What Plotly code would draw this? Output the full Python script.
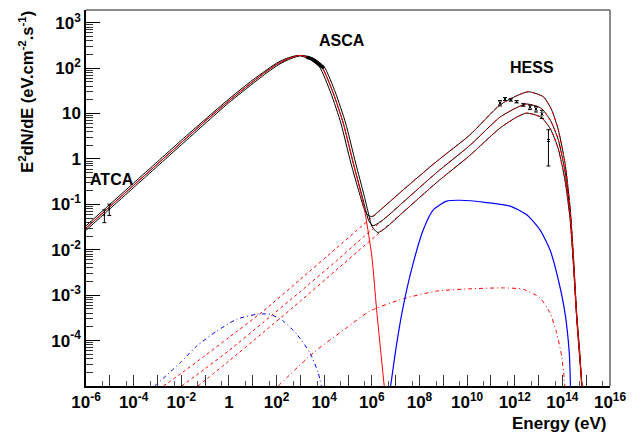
import plotly.graph_objects as go

# ---------------- data (log10 values) ----------------
# synchrotron (red solid)
sync_logE = [-6.1, -5, -4, -3, -2, -1, 0, 1, 1.5, 2, 2.5, 3, 3.5, 3.9, 4.38, 4.8, 5.22, 5.57, 5.74, 6.0, 6.2, 6.52]
sync_logF = [-1.57, -1.05, -0.58, -0.11, 0.36, 0.83, 1.28, 1.70, 1.90, 2.08, 2.21, 2.28, 2.20, 2.03, 1.45, 0.79, -0.09, -0.82, -1.26, -2.14, -3.31, -5.0]

# inverse Compton components (red dashed), three models
ic1_logE = [-2.75, -2, -1, 0, 1.44, 3, 4.5, 5.64, 6, 7.32, 8.72, 10.12, 11.38, 12.08, 12.57, 13.2, 13.55, 13.83, 14.11, 14.32, 14.46, 14.6, 14.74, 14.81]
ic1_logF = [-5.0, -4.72, -4.33, -3.93, -3.35, -2.65, -1.97, -1.45, -1.29, -0.68, -0.055, 0.53, 1.19, 1.39, 1.48, 1.37, 1.08, 0.64, -0.09, -1.04, -2.1, -3.39, -4.34, -5.0]
ic2_logE = [-1.98, -1, 0, 1.44, 3, 4.5, 5.64, 6, 7.32, 8.72, 10.12, 11.38, 12.08, 12.5, 13.1, 13.5, 13.83, 14.11, 14.32, 14.46, 14.6, 14.74, 14.82]
ic2_logF = [-5.0, -4.62, -4.22, -3.60, -2.92, -2.25, -1.72, -1.56, -0.95, -0.30, 0.30, 0.92, 1.13, 1.21, 1.12, 0.85, 0.42, -0.28, -1.15, -2.2, -3.45, -4.4, -5.0]
ic3_logE = [-1.3, 0, 1.44, 3, 4.5, 5.64, 6, 7.32, 8.72, 10.12, 11.38, 12.08, 12.5, 13.1, 13.5, 13.83, 14.11, 14.32, 14.46, 14.6, 14.74, 14.83]
ic3_logF = [-5.0, -4.45, -3.82, -3.13, -2.45, -1.93, -1.77, -1.17, -0.52, 0.08, 0.68, 0.92, 1.01, 0.92, 0.66, 0.22, -0.47, -1.3, -2.3, -3.5, -4.45, -5.0]

# total emission (black solid), three models
tot1_logE = [-6.1, -5, -4, -3, -2, -1, 0, 1, 1.5, 2, 2.4, 2.9, 3.4, 3.8, 4.28, 4.7, 5.12, 5.47, 5.64, 5.8, 6.0, 6.3,
             7.32, 8.72, 10.12, 11.38, 12.08, 12.57, 13.2, 13.55, 13.83, 14.11, 14.32, 14.46, 14.6, 14.74, 14.81]
tot1_logF = [-1.52, -1.00, -0.53, -0.06, 0.41, 0.87, 1.32, 1.74, 1.93, 2.11, 2.21, 2.28, 2.20, 2.03, 1.45, 0.79, -0.09, -0.74, -1.04, -1.22, -1.27, -1.15,
             -0.68, -0.055, 0.53, 1.19, 1.39, 1.48, 1.37, 1.08, 0.64, -0.09, -1.04, -2.1, -3.39, -4.34, -5.0]
tot2_logE = [-6.1, -5, -4, -3, -2, -1, 0, 1, 1.5, 2, 2.5, 3, 3.5, 3.9, 4.38, 4.8, 5.22, 5.57, 5.74, 5.87, 6.05, 6.5,
             7.32, 8.72, 10.12, 11.38, 12.08, 12.5, 13.1, 13.5, 13.83, 14.11, 14.32, 14.46, 14.6, 14.74, 14.82]
tot2_logF = [-1.57, -1.05, -0.58, -0.11, 0.36, 0.83, 1.28, 1.70, 1.90, 2.08, 2.21, 2.28, 2.20, 2.03, 1.45, 0.79, -0.09, -0.77, -1.12, -1.36, -1.47, -1.33,
             -0.95, -0.30, 0.30, 0.92, 1.13, 1.21, 1.12, 0.85, 0.42, -0.28, -1.15, -2.2, -3.45, -4.4, -5.0]
tot3_logE = [-6.1, -5, -4, -3, -2, -1, 0, 1.1, 1.6, 2.1, 2.6, 3.1, 3.6, 4.0, 4.48, 4.9, 5.32, 5.67, 5.84, 6.0, 6.25, 6.6,
             7.32, 8.72, 10.12, 11.38, 12.08, 12.5, 13.1, 13.5, 13.83, 14.11, 14.32, 14.46, 14.6, 14.74, 14.83]
tot3_logF = [-1.62, -1.10, -0.63, -0.16, 0.31, 0.78, 1.24, 1.70, 1.90, 2.08, 2.21, 2.28, 2.20, 2.03, 1.45, 0.79, -0.09, -0.79, -1.16, -1.48, -1.62, -1.51,
             -1.17, -0.52, 0.08, 0.68, 0.92, 1.01, 0.92, 0.66, 0.22, -0.47, -1.3, -2.3, -3.5, -4.45, -5.0]

# low-energy bump (blue dash-dot)
bdd_logE = [-3.12, -2.05, -1.35, -0.51, 0.33, 1.17, 1.72, 2.28, 2.85, 3.40, 3.75, 3.88]
bdd_logF = [-5.0, -4.49, -4.12, -3.79, -3.53, -3.42, -3.42, -3.57, -3.86, -4.27, -4.71, -5.0]

# red dash-dot component
rdd_logE = [2.07, 3.54, 4.94, 5.92, 7.32, 8.72, 10.12, 11.52, 12.36, 13.06, 13.48, 13.76, 13.97, 14.08, 14.1]
rdd_logF = [-5.0, -4.27, -3.72, -3.35, -3.08, -2.91, -2.86, -2.84, -2.87, -3.06, -3.39, -3.83, -4.34, -4.85, -5.0]

# blue solid component
bs_logE = [6.79, 7.05, 7.32, 7.74, 8.16, 8.58, 9.14, 9.70, 10.82, 11.80, 12.50, 13.06, 13.48, 13.83, 14.11, 14.29, 14.34]
bs_logF = [-5.0, -4.05, -3.24, -2.29, -1.56, -1.12, -0.93, -0.91, -0.96, -1.04, -1.23, -1.56, -2.0, -2.66, -3.39, -4.27, -5.0]

# measurements
atca_E = [5.9e-6, 9.5e-6]
atca_F = [0.0575, 0.079]
atca_err = [0.018, 0.022]

asca_E = [1.8e3, 3.0e3, 5.0e3, 7.0e3, 9.8e3]
asca_F = [174, 160, 130, 112, 100]

hess_E = [2.4e11, 3.9e11, 6.8e11, 1.2e12, 2.3e12, 4.4e12, 7.8e12, 1.38e13, 2.6e13]
hess_F = [17.0, 20.9, 20.0, 18.2, 15.5, 13.8, 12.6, 9.8, 2.55]
hess_err = [2.3, 1.5, 1.2, 1.0, 1.0, 1.6, 1.8, 2.0, 1.85]

x_label_exps = [-6, -4, -2, 0, 2, 4, 6, 8, 10, 12, 14, 16]
x_unlabeled_exps = [-5, -3, -1, 1, 3, 5, 7, 9, 11, 13, 15]
y_label_exps = [-4, -3, -2, -1, 0, 1, 2, 3]


def p10(v):
    return [10 ** a for a in v]


def lab(e):
    if e == 0:
        return "1"
    if e == 1:
        return "10"
    return "10<sup>%d</sup>" % e


fig = go.Figure()

def curve(lx, ly, color, dash="solid", width=1.0):
    fig.add_trace(go.Scatter(x=p10(lx), y=p10(ly), mode="lines",
                             line=dict(color=color, width=width, dash=dash, shape="spline", smoothing=0.6),
                             hoverinfo="skip", showlegend=False))

# totals (black)
curve(tot1_logE, tot1_logF, "black")
curve(tot2_logE, tot2_logF, "black")
curve(tot3_logE, tot3_logF, "black")
# synchrotron
curve(sync_logE, sync_logF, "red")
# IC
dash_ic = "3px,3px"
curve(ic1_logE, ic1_logF, "red", dash_ic)
curve(ic2_logE, ic2_logF, "red", dash_ic)
curve(ic3_logE, ic3_logF, "red", dash_ic)
# other components
dd = "4px,3px,1px,3px"
curve(bdd_logE, bdd_logF, "blue", dd)
curve(rdd_logE, rdd_logF, "red", dd)
curve(bs_logE, bs_logF, "blue", "solid", 1.2)

# data
fig.add_trace(go.Scatter(x=atca_E, y=atca_F, mode="markers",
                         marker=dict(color="black", size=2),
                         error_y=dict(type="data", array=atca_err, color="black", thickness=1, width=2),
                         showlegend=False, hoverinfo="skip"))
fig.add_trace(go.Scatter(x=asca_E, y=asca_F, mode="lines",
                         line=dict(color="black", width=3.5), showlegend=False, hoverinfo="skip"))
fig.add_trace(go.Scatter(x=hess_E, y=hess_F, mode="markers",
                         marker=dict(color="black", size=3, symbol="x-thin", line=dict(width=1, color="black")),
                         error_y=dict(type="data", array=hess_err, color="black", thickness=1, width=2),
                         showlegend=False, hoverinfo="skip"))

# invisible trace to carry the secondary (tick-only) x axis
fig.add_trace(go.Scatter(x=[1e-6, 1e16], y=[1e-5, 1e-5], xaxis="x2", mode="lines",
                         line=dict(width=0), opacity=0, hoverinfo="skip", showlegend=False))

tickfont = dict(family="Liberation Sans", size=17, color="black", weight="bold")

x_major = [10.0 ** e for e in x_label_exps]
x_text = [lab(e) for e in x_label_exps]
x_odd = [10.0 ** e for e in x_unlabeled_exps]
x_minor = [5 * 10.0 ** e for e in range(-6, 16)]

y_major = [10.0 ** e for e in y_label_exps]
y_text = [lab(e) for e in y_label_exps]
y_minor = [m * 10.0 ** e for e in range(-5, 4) for m in range(2, 10)]

# the page body has an 8 px margin; size the figure so the plot frame lands where the reference has it
fig.update_layout(
    width=633, height=428,
    margin=dict(l=78, r=31, t=2, b=50, autoexpand=False),
    paper_bgcolor="white", plot_bgcolor="white",
    xaxis=dict(type="log", range=[-6, 16], showgrid=False, zeroline=False,
               showline=True, linecolor="black", linewidth=1.5,
               ticks="inside", tickvals=x_major, ticktext=x_text, ticklen=11,
               tickcolor="#333", tickwidth=1, tickfont=tickfont,
               minor=dict(tickvals=x_minor, ticklen=5, tickcolor="#555", tickwidth=1, ticks="inside")),
    xaxis2=dict(type="log", range=[-6, 16], overlaying="x", side="bottom", anchor="y",
                showgrid=False, zeroline=False, showline=False, showticklabels=False,
                ticks="inside", tickvals=x_odd, ticklen=11, tickcolor="#333", tickwidth=1),
    yaxis=dict(type="log", range=[-5, 3.28], showgrid=False, zeroline=False,
               showline=True, linecolor="black", linewidth=1.5,
               ticks="inside", tickvals=y_major, ticktext=y_text, ticklen=14,
               tickcolor="black", tickwidth=1, tickfont=tickfont,
               minor=dict(tickvals=y_minor, ticklen=7, tickcolor="#333", tickwidth=1, ticks="inside")),
)

# top and right frame lines
fig.add_shape(type="line", xref="paper", yref="paper", x0=0, x1=1, y0=1, y1=1,
              line=dict(color="#666", width=1.5))
fig.add_shape(type="line", xref="paper", yref="paper", x0=1, x1=1, y0=0, y1=1,
              line=dict(color="#666", width=1.5))

afont = dict(family="Liberation Sans", size=16, color="black", weight="bold")
for txt, ax, ay in [("ATCA", 0.0496, 0.548), ("ASCA", 0.4885, 0.920), ("HESS", 0.851, 0.846)]:
    fig.add_annotation(text=txt, x=ax, y=ay, xref="paper", yref="paper", xanchor="center",
                       yanchor="middle", showarrow=False, font=afont)

tfont = dict(family="Liberation Sans", size=17, color="black", weight="bold")
fig.add_annotation(text="Energy (eV)", x=0.996, y=-0.101, xref="paper", yref="paper",
                   xanchor="right", yanchor="middle", showarrow=False, font=tfont)
yfont = dict(family="Liberation Sans", size=16.5, color="black", weight="bold")
fig.add_annotation(text="E<sup>2</sup>dN/dE (eV.cm<sup>-2</sup>.s<sup>-1</sup>)", textangle=-90,
                   x=-0.1145, y=1.003, xref="paper", yref="paper", xanchor="center", yanchor="top",
                   showarrow=False, font=yfont)

fig.write_html("out.html")
